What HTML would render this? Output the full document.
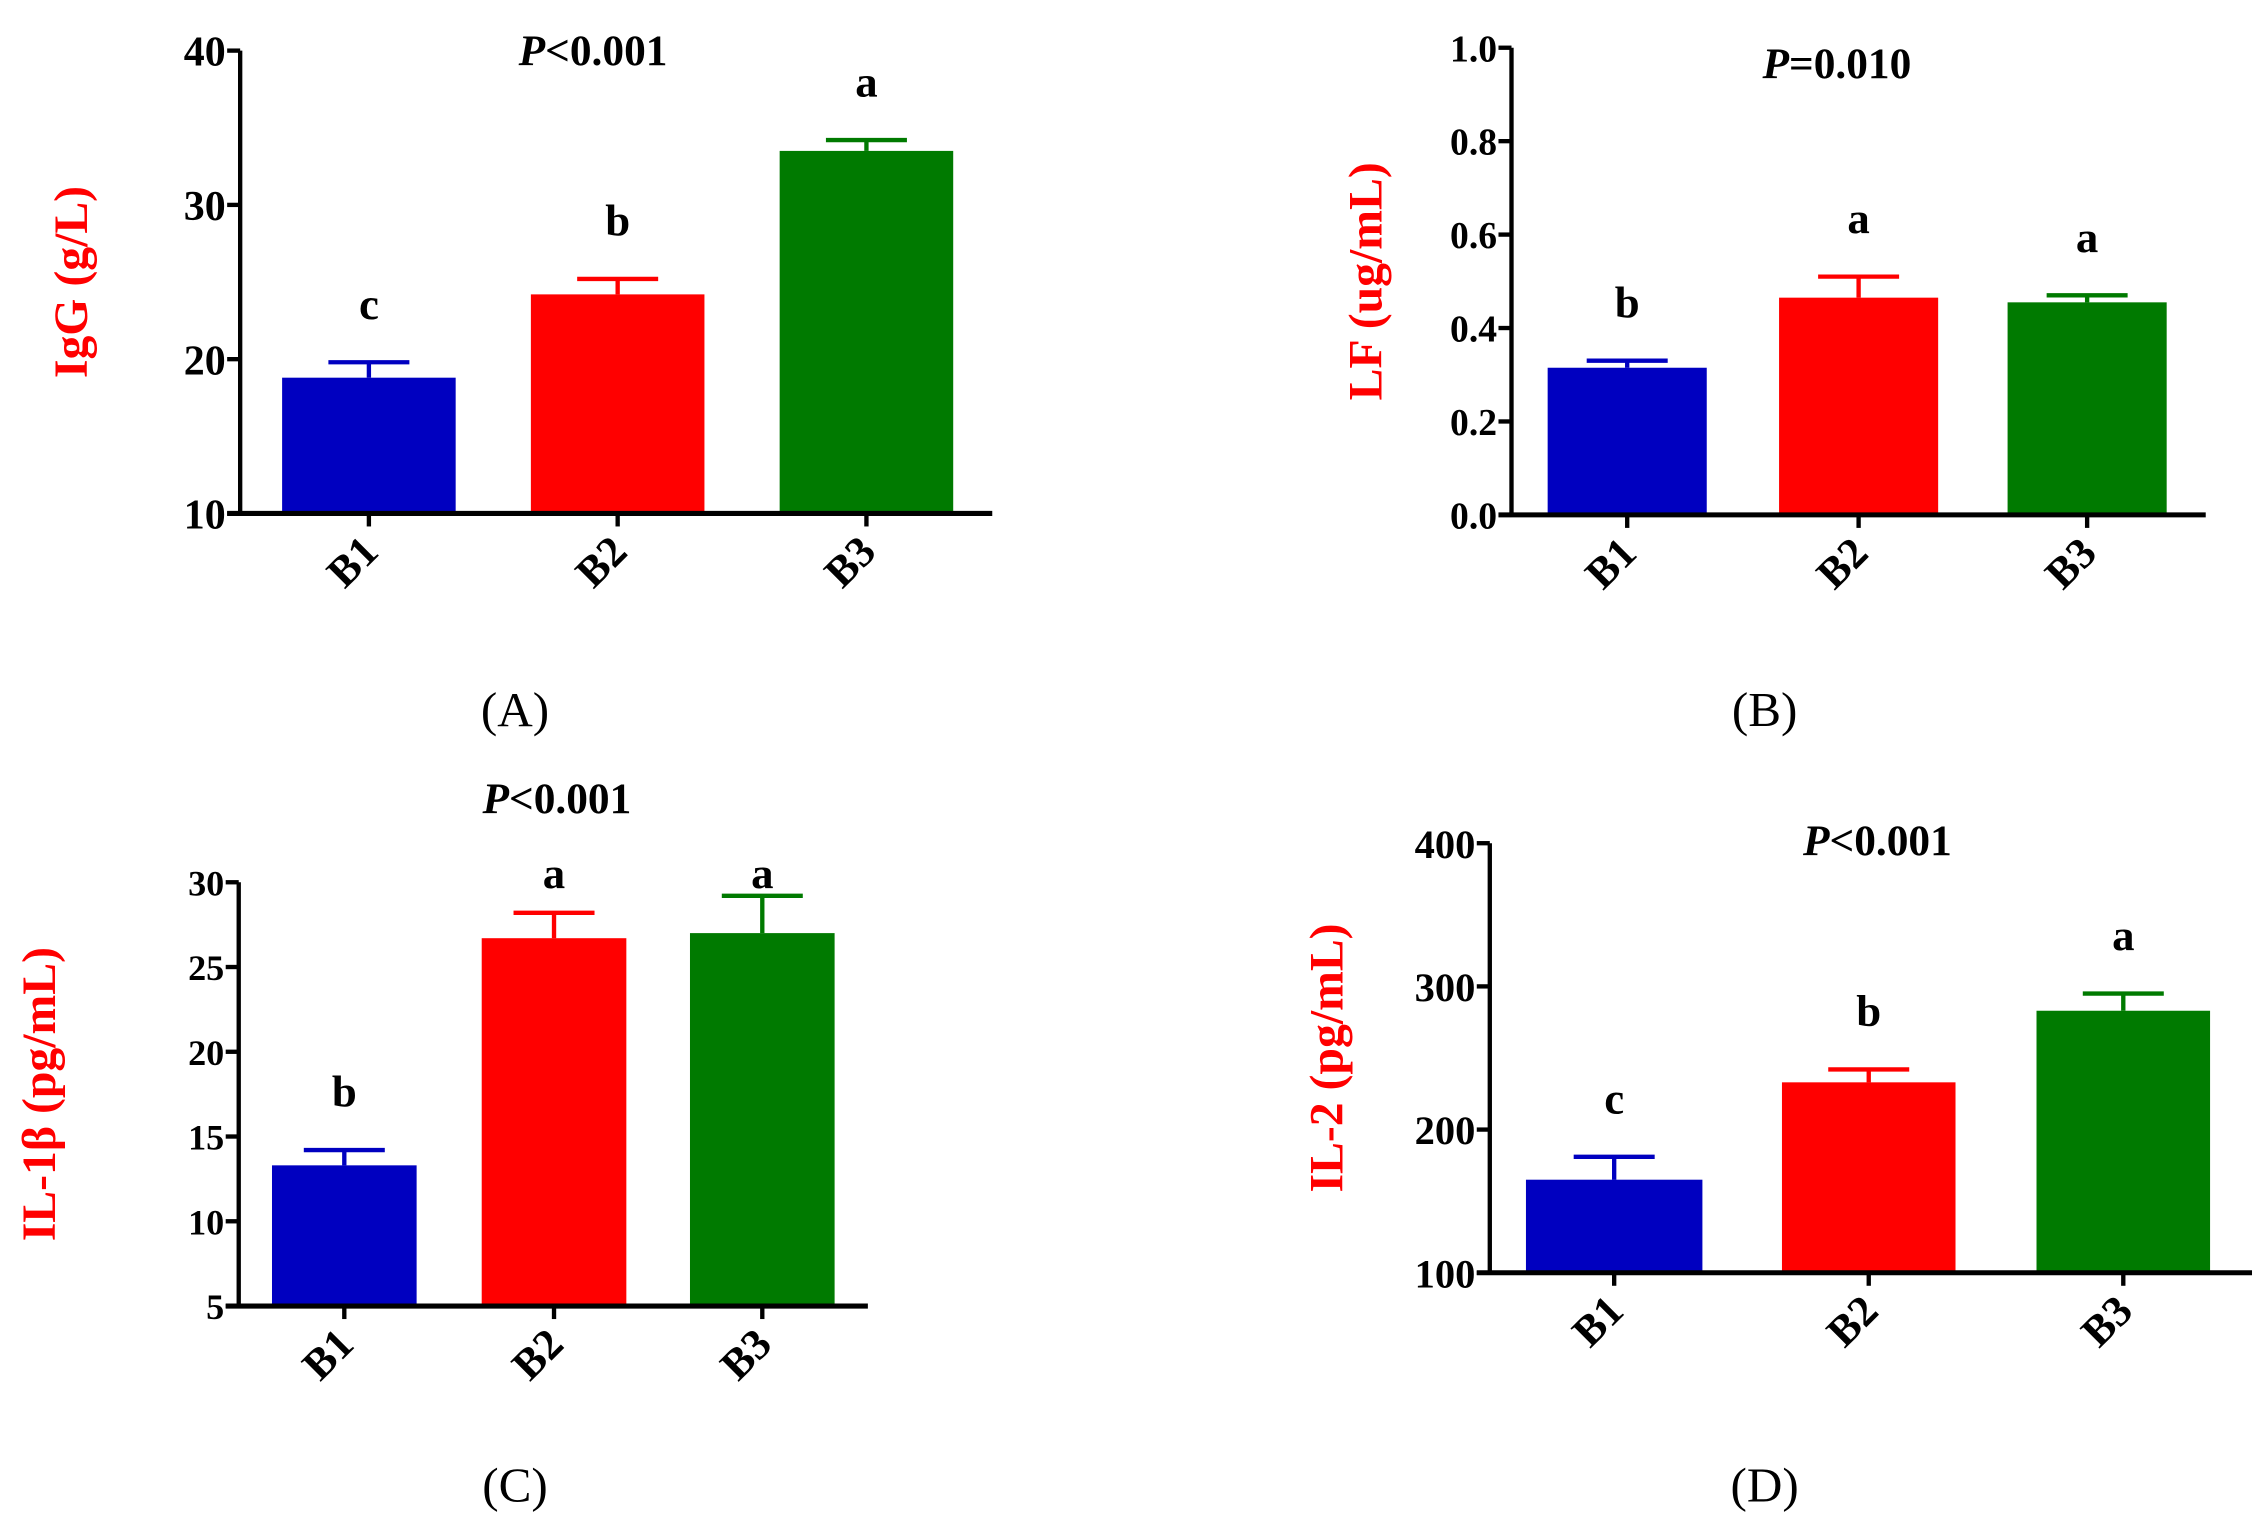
<!DOCTYPE html>
<html><head><meta charset="utf-8"><style>
html,body{margin:0;padding:0;background:#fff;}
svg{display:block;}
text{font-family:"Liberation Serif",serif;}
</style></head><body>
<svg id="fig" width="2268" height="1536" viewBox="0 0 1568 1062" xmlns="http://www.w3.org/2000/svg"></svg>
<script>
const categories = ["B1","B2","B3"];
const colors = ["#0000c0","#ff0000","#007a00"];
// Panel A
const iggValues = [18.8, 24.2, 33.5];
const iggErrors = [1.0, 1.0, 0.7];
const iggTicks = [10, 20, 30, 40];
const iggLetters = ["c","b","a"];
// Panel B
const lfValues = [0.315, 0.465, 0.455];
const lfErrors = [0.015, 0.045, 0.015];
const lfTicks = ["0.0","0.2","0.4","0.6","0.8","1.0"];
const lfLetters = ["b","a","a"];
// Panel C
const il1Values = [13.3, 26.7, 27.0];
const il1Errors = [0.9, 1.5, 2.2];
const il1Ticks = [5, 10, 15, 20, 25, 30];
const il1Letters = ["b","a","a"];
// Panel D
const il2Values = [165, 233, 283];
const il2Errors = [16, 9, 12];
const il2Ticks = [100, 200, 300, 400];
const il2Letters = ["c","b","a"];

const panels = [
 {id:"a", values:iggValues, errs:iggErrors, ticks:iggTicks, letters:iggLetters, ylabel:"IgG (g/L)", p:"<0.001",
  ax:166, top:35, bot:355, xend:686, bars:[[195,315],[367,487],[539,659]], ylx:60, pX:410, pY:45, lab:"(A)", labX:356, labY:502, tfs:29, minY:0},
 {id:"b", values:lfValues, errs:lfErrors, ticks:lfTicks, letters:lfLetters, ylabel:"LF (ug/mL)", p:"=0.010",
  ax:1045, top:33, bot:356, xend:1525, bars:[[1070,1180],[1230,1340],[1388,1498]], ylx:955, pX:1270, pY:54, lab:"(B)", labX:1220, labY:502, tfs:26, minY:0},
 {id:"c", values:il1Values, errs:il1Errors, ticks:il1Ticks, letters:il1Letters, ylabel:"IL-1β (pg/mL)", p:"<0.001",
  ax:165, top:610, bot:903, xend:600, bars:[[188,288],[333,433],[477,577]], ylx:38, pX:385, pY:562, lab:"(C)", labX:356, labY:1038, tfs:25, minY:614},
 {id:"d", values:il2Values, errs:il2Errors, ticks:il2Ticks, letters:il2Letters, ylabel:"IL-2 (pg/mL)", p:"<0.001",
  ax:1030, top:583, bot:880, xend:1557, bars:[[1055,1177],[1232,1352],[1408,1528]], ylx:928, pX:1298, pY:591, lab:"(D)", labX:1220, labY:1038, tfs:28, minY:0}
];
const NS="http://www.w3.org/2000/svg";
const svg=document.getElementById("fig");
function mk(tag, attrs, parent){const e=document.createElementNS(NS,tag);for(const k in attrs)e.setAttribute(k,attrs[k]);(parent||svg).appendChild(e);return e;}

panels.forEach(P=>{
  const g=mk("g",{});
  
  
  const tv=P.ticks.map(Number);
  const lo=tv[0], hi=tv[tv.length-1];
  const y=v=>P.bot-(v-lo)/(hi-lo)*(P.bot-P.top);
  P.values.forEach((v,i)=>{
    const [x0,x1]=P.bars[i]; const cx=(x0+x1)/2;
    const r=mk("rect",{x:x0,y:y(v),width:x1-x0,height:P.bot-y(v),fill:colors[i]},g);
    
    
    const eTop=y(v+P.errs[i]);
    const eb=mk("path",{d:`M${cx},${y(v)}V${eTop}M${cx-28},${eTop}H${cx+28}`,stroke:colors[i],"stroke-width":3,fill:"none"},g);
    
    
    const ly=Math.max(eTop-30, P.minY);
    const lt=mk("text",{x:cx,y:ly,"text-anchor":"middle","font-size":31,"font-weight":"bold",fill:"#000"},g);
    lt.textContent=P.letters[i];
    
    
    mk("line",{x1:cx,x2:cx,y1:P.bot,y2:P.bot+9,stroke:"#000","stroke-width":3},g);
    const xl=mk("text",{x:0,y:0,transform:`translate(${cx+8},${P.bot+28}) rotate(-45)`,"text-anchor":"end","font-size":30,"font-weight":"bold",fill:"#000"},g);
    xl.textContent=categories[i];
    
    
  });
  const ya=mk("line",{x1:P.ax,x2:P.ax,y1:P.top,y2:P.bot+1.5,stroke:"#000","stroke-width":3},g);
  
  
  const xa=mk("line",{x1:P.ax-9,x2:P.xend,y1:P.bot,y2:P.bot,stroke:"#000","stroke-width":3.5},g);
  
  
  P.ticks.forEach((t,i)=>{
    const yy=y(tv[i]);
    mk("line",{x1:P.ax-9,x2:P.ax,y1:yy,y2:yy,stroke:"#000","stroke-width":3},g);
    const tl=mk("text",{x:P.ax-10,y:yy+P.tfs*0.36,"text-anchor":"end","font-size":P.tfs,"font-weight":"bold",fill:"#000"},g);
    tl.textContent=t;
    
    
  });
  const cy=(P.top+P.bot)/2;
  const yl=mk("text",{x:0,y:0,transform:`translate(${P.ylx},${cy}) rotate(-90)`,"text-anchor":"middle","font-size":33,"font-weight":"bold",fill:"#ff0000"},g);
  yl.textContent=P.ylabel;
  
  
  const pt=mk("text",{x:P.pX,y:P.pY,"text-anchor":"middle","font-size":30,"font-weight":"bold",fill:"#000"},g);
  const ps=mk("tspan",{"font-style":"italic"},pt); ps.textContent="P";
  const ps2=mk("tspan",{},pt); ps2.textContent=P.p;
  
  
  const pl=mk("text",{x:P.labX,y:P.labY,"text-anchor":"middle","font-size":34,fill:"#000"},g);
  pl.textContent=P.lab;
  
  
});
</script>
</body></html>
